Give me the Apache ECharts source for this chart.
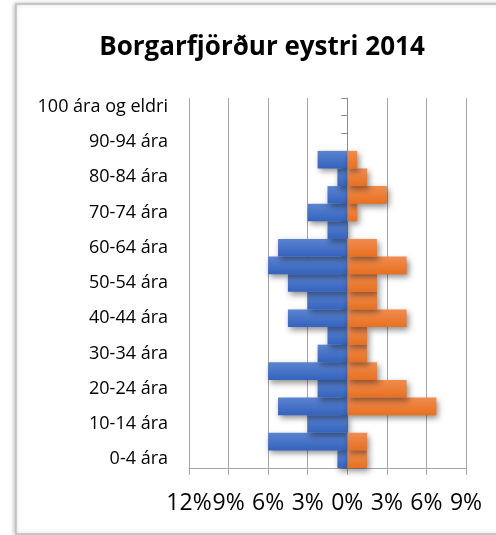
<!DOCTYPE html>
<html>
<head>
<meta charset="utf-8">
<script src="https://cdn.jsdelivr.net/npm/echarts@6/dist/echarts.min.js"></script>
<style>
  html, body { margin: 0; padding: 0; background: #fff; }
  #chart { width: 496px; height: 535px; }
</style>
</head>
<body>
<div id="chart"></div>
<script>
// Aldurshópar, neðst til efst
const ageGroups = [
    "0-4 ára", "5-9 ára", "10-14 ára", "15-19 ára", "20-24 ára", "25-29 ára",
    "30-34 ára", "35-39 ára", "40-44 ára", "45-49 ára", "50-54 ára", "55-59 ára",
    "60-64 ára", "65-69 ára", "70-74 ára", "75-79 ára", "80-84 ára", "85-89 ára",
    "90-94 ára", "95-99 ára", "100 ára og eldri"
];
// Hlutfall (%) – karlar (vinstri, blátt)
const males = [0.75, 6.0, 3.0, 5.25, 2.25, 6.0, 2.25, 1.5, 4.5, 3.0, 4.5, 6.0, 5.25, 1.5, 3.0, 1.5, 0.75, 2.25, 0, 0, 0];
// Hlutfall (%) – konur (hægri, appelsínugult)
const females = [1.5, 1.5, 0, 6.75, 4.5, 2.25, 1.5, 1.5, 4.5, 2.25, 2.25, 4.5, 2.25, 0, 0.75, 3.0, 1.5, 0.75, 0, 0, 0];
const xTicks = { min: -12, max: 9, interval: 3 };

const font = "'Open Sans', sans-serif";

// Lóðréttur litaflökkur eins og í Office-stíl
function grad(top, bottom) {
    return new echarts.graphic.LinearGradient(0, 0, 0, 1, [
        { offset: 0, color: top },
        { offset: 1, color: bottom }
    ]);
}

const chart = echarts.init(document.getElementById("chart"));
chart.setOption({
    animation: false,
    title: {
        text: "Borgarfjörður eystri 2014",
        left: 257, top: 30, textAlign: "center",
        textStyle: { fontFamily: font, fontWeight: "bold", fontSize: 26, color: "#000" }
    },
    graphic: [{
        type: "rect", silent: true, z: -10,
        shape: { x: 16, y: 4, width: 500, height: 530 },
        style: { fill: "#fff", stroke: "#bdbdbd", lineWidth: 1.5,
                 shadowColor: "rgba(0,0,0,0.25)", shadowBlur: 4, shadowOffsetX: -1 }
    }],
    grid: { left: 189, right: 30, top: 98, bottom: 67 },
    xAxis: {
        type: "value", min: xTicks.min, max: xTicks.max, interval: xTicks.interval,
        axisLine: { show: true, lineStyle: { color: "#a6a6a6", width: 1 } },
        axisTick: { show: true, length: 7, lineStyle: { color: "#a6a6a6" } },
        splitLine: { show: true, lineStyle: { color: "#a6a6a6", width: 1 } },
        axisLabel: {
            margin: 24, fontFamily: font, fontSize: 23, color: "#000",
            formatter: v => Math.abs(v) + "%"
        }
    },
    yAxis: [{
        type: "category", data: ageGroups, position: "left",
        axisLine: { show: false, onZero: false }, axisTick: { show: false },
        axisLabel: { interval: 1, margin: 21, fontFamily: font, fontSize: 18, color: "#000" }
    }, {
        type: "category", data: ageGroups, position: "left",
        axisLine: { show: true, onZero: true, onZeroAxisIndex: 0, lineStyle: { color: "#8c8c8c", width: 1 } },
        axisTick: { show: true, length: 6, lineStyle: { color: "#8c8c8c" } },
        axisLabel: { show: false }
    }],
    series: [{
        name: "Karlar", type: "bar", yAxisIndex: 0,
        barGap: "-100%", barCategoryGap: "0%",
        data: males.map(v => -v),
        itemStyle: {
            color: grad("#5b84d0", "#3463be"),
            shadowColor: "rgba(0,0,0,0.45)", shadowBlur: 6, shadowOffsetX: 2, shadowOffsetY: 3
        }
    }, {
        name: "Konur", type: "bar", yAxisIndex: 0,
        barGap: "-100%", barCategoryGap: "0%",
        data: females,
        itemStyle: {
            color: grad("#f08c50", "#e8701f"),
            shadowColor: "rgba(0,0,0,0.45)", shadowBlur: 6, shadowOffsetX: 2, shadowOffsetY: 3
        }
    }]
});
</script>
</body>
</html>
